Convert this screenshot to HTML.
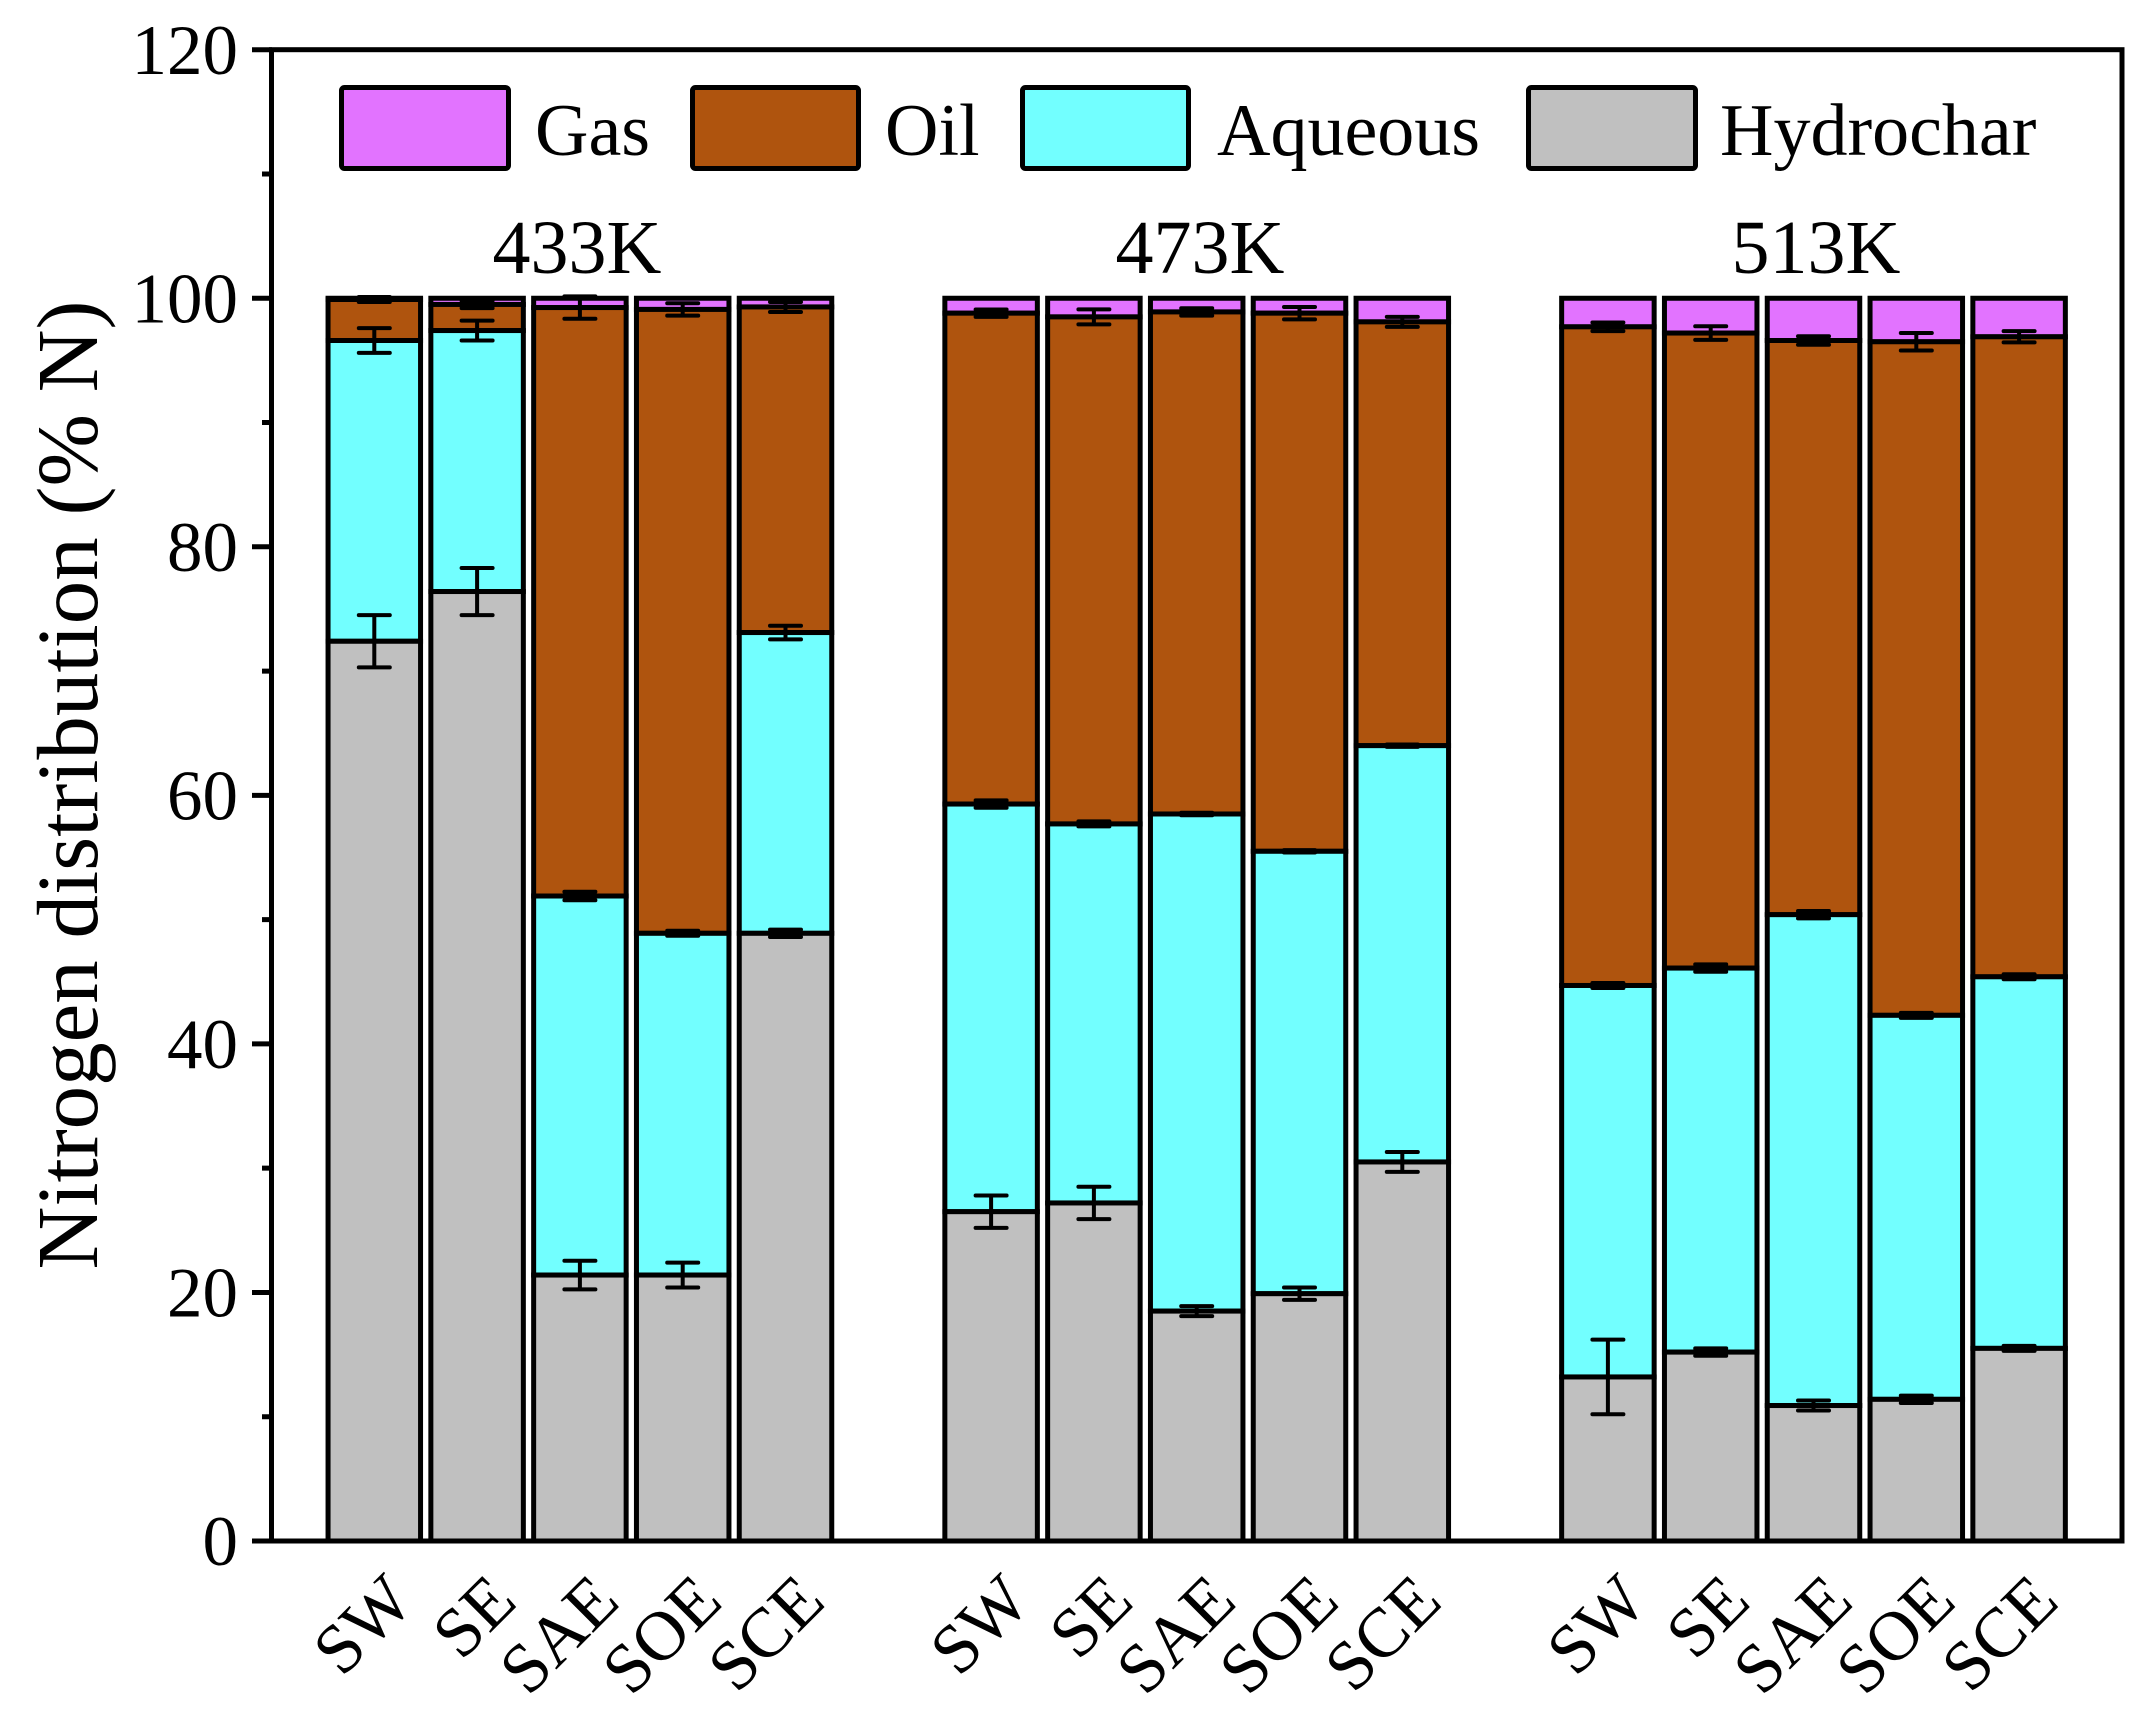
<!DOCTYPE html>
<html>
<head>
<meta charset="utf-8">
<style>
html,body{margin:0;padding:0;background:#fff;}
svg{display:block;}
text{font-family:"Liberation Serif","Times New Roman",serif;fill:#000;}
</style>
</head>
<body>
<svg width="2145" height="1722" viewBox="0 0 2145 1722" xmlns="http://www.w3.org/2000/svg">
<rect x="0" y="0" width="2145" height="1722" fill="#fff"/>

<!-- Bars -->
<g stroke="#000" stroke-width="5" stroke-linejoin="miter">
<!-- 433K -->
<rect x="328.05" y="298.25" width="92.5" height="1.25" fill="#E273FF"/>
<rect x="328.05" y="299.5" width="92.5" height="41" fill="#AF540E"/>
<rect x="328.05" y="340.5" width="92.5" height="300.75" fill="#72FFFF"/>
<rect x="328.05" y="641.25" width="92.5" height="899.75" fill="#C0C0C0"/>

<rect x="430.85" y="298.25" width="92.5" height="6.21" fill="#E273FF"/>
<rect x="430.85" y="304.46" width="92.5" height="26.1" fill="#AF540E"/>
<rect x="430.85" y="330.56" width="92.5" height="260.98" fill="#72FFFF"/>
<rect x="430.85" y="591.54" width="92.5" height="949.46" fill="#C0C0C0"/>

<rect x="533.65" y="298.25" width="92.5" height="9.32" fill="#E273FF"/>
<rect x="533.65" y="307.57" width="92.5" height="588.44" fill="#AF540E"/>
<rect x="533.65" y="896.01" width="92.5" height="379.04" fill="#72FFFF"/>
<rect x="533.65" y="1275.05" width="92.5" height="265.95" fill="#C0C0C0"/>

<rect x="636.45" y="298.25" width="92.5" height="11.18" fill="#E273FF"/>
<rect x="636.45" y="309.43" width="92.5" height="623.87" fill="#AF540E"/>
<rect x="636.45" y="933.3" width="92.5" height="341.75" fill="#72FFFF"/>
<rect x="636.45" y="1275.05" width="92.5" height="265.95" fill="#C0C0C0"/>

<rect x="739.25" y="298.25" width="92.5" height="8.7" fill="#E273FF"/>
<rect x="739.25" y="306.95" width="92.5" height="325.6" fill="#AF540E"/>
<rect x="739.25" y="632.55" width="92.5" height="300.75" fill="#72FFFF"/>
<rect x="739.25" y="933.3" width="92.5" height="607.7" fill="#C0C0C0"/>

<!-- 473K -->
<rect x="944.85" y="298.25" width="92.5" height="14.91" fill="#E273FF"/>
<rect x="944.85" y="313.16" width="92.5" height="490.89" fill="#AF540E"/>
<rect x="944.85" y="804.05" width="92.5" height="407.62" fill="#72FFFF"/>
<rect x="944.85" y="1211.67" width="92.5" height="329.33" fill="#C0C0C0"/>

<rect x="1047.65" y="298.25" width="92.5" height="18.64" fill="#E273FF"/>
<rect x="1047.65" y="316.89" width="92.5" height="507.04" fill="#AF540E"/>
<rect x="1047.65" y="823.93" width="92.5" height="379.04" fill="#72FFFF"/>
<rect x="1047.65" y="1202.97" width="92.5" height="338.03" fill="#C0C0C0"/>

<rect x="1150.45" y="298.25" width="92.5" height="13.67" fill="#E273FF"/>
<rect x="1150.45" y="311.92" width="92.5" height="502.07" fill="#AF540E"/>
<rect x="1150.45" y="813.99" width="92.5" height="497.1" fill="#72FFFF"/>
<rect x="1150.45" y="1311.09" width="92.5" height="229.91" fill="#C0C0C0"/>

<rect x="1253.25" y="298.25" width="92.5" height="14.91" fill="#E273FF"/>
<rect x="1253.25" y="313.16" width="92.5" height="538.11" fill="#AF540E"/>
<rect x="1253.25" y="851.27" width="92.5" height="442.42" fill="#72FFFF"/>
<rect x="1253.25" y="1293.69" width="92.5" height="247.31" fill="#C0C0C0"/>

<rect x="1356.05" y="298.25" width="92.5" height="23.61" fill="#E273FF"/>
<rect x="1356.05" y="321.86" width="92.5" height="423.78" fill="#AF540E"/>
<rect x="1356.05" y="745.64" width="92.5" height="416.32" fill="#72FFFF"/>
<rect x="1356.05" y="1161.96" width="92.5" height="379.04" fill="#C0C0C0"/>

<!-- 513K -->
<rect x="1561.65" y="298.25" width="92.5" height="28.58" fill="#E273FF"/>
<rect x="1561.65" y="326.83" width="92.5" height="658.66" fill="#AF540E"/>
<rect x="1561.65" y="985.49" width="92.5" height="391.47" fill="#72FFFF"/>
<rect x="1561.65" y="1376.96" width="92.5" height="164.04" fill="#C0C0C0"/>

<rect x="1664.45" y="298.25" width="92.5" height="34.8" fill="#E273FF"/>
<rect x="1664.45" y="333.05" width="92.5" height="635.04" fill="#AF540E"/>
<rect x="1664.45" y="968.09" width="92.5" height="384.01" fill="#72FFFF"/>
<rect x="1664.45" y="1352.1" width="92.5" height="188.9" fill="#C0C0C0"/>

<rect x="1767.25" y="298.25" width="92.5" height="42.25" fill="#E273FF"/>
<rect x="1767.25" y="340.5" width="92.5" height="574.15" fill="#AF540E"/>
<rect x="1767.25" y="914.65" width="92.5" height="490.89" fill="#72FFFF"/>
<rect x="1767.25" y="1405.54" width="92.5" height="135.46" fill="#C0C0C0"/>

<rect x="1870.05" y="298.25" width="92.5" height="43.5" fill="#E273FF"/>
<rect x="1870.05" y="341.75" width="92.5" height="673.57" fill="#AF540E"/>
<rect x="1870.05" y="1015.32" width="92.5" height="384.01" fill="#72FFFF"/>
<rect x="1870.05" y="1399.33" width="92.5" height="141.67" fill="#C0C0C0"/>

<rect x="1972.85" y="298.25" width="92.5" height="38.53" fill="#E273FF"/>
<rect x="1972.85" y="336.78" width="92.5" height="640.01" fill="#AF540E"/>
<rect x="1972.85" y="976.79" width="92.5" height="371.58" fill="#72FFFF"/>
<rect x="1972.85" y="1348.37" width="92.5" height="192.63" fill="#C0C0C0"/>
</g>

<!-- Error bars -->
<g stroke="#000" stroke-width="4" fill="none" stroke-linecap="round">
<path d="M374.3 615.15V667.35M358.8 615.15h31M358.8 667.35h31 M374.3 328.1V352.9M358.8 328.1h31M358.8 352.9h31 M374.3 297V302M358.8 297h31M358.8 302h31"/>
<path d="M477.1 567.94V615.14M461.6 567.94h31M461.6 615.14h31 M477.1 320.66V340.46M461.6 320.66h31M461.6 340.46h31 M477.1 300.76V308.16M461.6 300.76h31M461.6 308.16h31"/>
<path d="M579.9 1260.75V1289.35M564.4 1260.75h31M564.4 1289.35h31 M579.9 891.71V900.31M564.4 891.71h31M564.4 900.31h31 M579.9 296.37V318.77M564.4 296.37h31M564.4 318.77h31"/>
<path d="M682.7 1262.65V1287.45M667.2 1262.65h31M667.2 1287.45h31 M682.7 930.8V935.8M667.2 930.8h31M667.2 935.8h31 M682.7 303.23V315.63M667.2 303.23h31M667.2 315.63h31"/>
<path d="M785.5 929.6V937M770 929.6h31M770 937h31 M785.5 625.75V639.35M770 625.75h31M770 639.35h31 M785.5 301.95V311.95M770 301.95h31M770 311.95h31"/>

<path d="M991.1 1195.47V1227.87M975.6 1195.47h31M975.6 1227.87h31 M991.1 800.35V807.75M975.6 800.35h31M975.6 807.75h31 M991.1 309.46V316.86M975.6 309.46h31M975.6 316.86h31"/>
<path d="M1093.9 1186.77V1219.17M1078.4 1186.77h31M1078.4 1219.17h31 M1093.9 821.43V826.43M1078.4 821.43h31M1078.4 826.43h31 M1093.9 309.39V324.39M1078.4 309.39h31M1078.4 324.39h31"/>
<path d="M1196.7 1306.09V1316.09M1181.2 1306.09h31M1181.2 1316.09h31 M1196.7 812.79V815.19M1181.2 812.79h31M1181.2 815.19h31 M1196.7 308.22V315.62M1181.2 308.22h31M1181.2 315.62h31"/>
<path d="M1299.5 1287.49V1299.89M1284 1287.49h31M1284 1299.89h31 M1299.5 850.07V852.47M1284 850.07h31M1284 852.47h31 M1299.5 306.96V319.36M1284 306.96h31M1284 319.36h31"/>
<path d="M1402.3 1152.06V1171.86M1386.8 1152.06h31M1386.8 1171.86h31 M1402.3 744.44V746.84M1386.8 744.44h31M1386.8 746.84h31 M1402.3 316.86V326.86M1386.8 316.86h31M1386.8 326.86h31"/>

<path d="M1607.9 1339.66V1414.26M1592.4 1339.66h31M1592.4 1414.26h31 M1607.9 982.99V987.99M1592.4 982.99h31M1592.4 987.99h31 M1607.9 322.53V331.13M1592.4 322.53h31M1592.4 331.13h31"/>
<path d="M1710.7 1348.4V1355.8M1695.2 1348.4h31M1695.2 1355.8h31 M1710.7 964.39V971.79M1695.2 964.39h31M1695.2 971.79h31 M1710.7 326.25V339.85M1695.2 326.25h31M1695.2 339.85h31"/>
<path d="M1813.5 1400.54V1410.54M1798 1400.54h31M1798 1410.54h31 M1813.5 910.95V918.35M1798 910.95h31M1798 918.35h31 M1813.5 336.2V344.8M1798 336.2h31M1798 344.8h31"/>
<path d="M1916.3 1395.63V1403.03M1900.8 1395.63h31M1900.8 1403.03h31 M1916.3 1012.82V1017.82M1900.8 1012.82h31M1900.8 1017.82h31 M1916.3 333.05V350.45M1900.8 333.05h31M1900.8 350.45h31"/>
<path d="M2019.1 1345.87V1350.87M2003.6 1345.87h31M2003.6 1350.87h31 M2019.1 974.29V979.29M2003.6 974.29h31M2003.6 979.29h31 M2019.1 331.18V342.38M2003.6 331.18h31M2003.6 342.38h31"/>
</g>

<!-- Axes frame -->
<rect x="271.5" y="49.7" width="1850.5" height="1491.3" fill="none" stroke="#000" stroke-width="5"/>

<!-- Y ticks -->
<g stroke="#000" stroke-width="5">
<path d="M252 1541H272M252 1292.45H272M252 1043.9H272M252 795.35H272M252 546.8H272M252 298.25H272M252 49.7H272"/>
<path d="M262 1416.73H272M262 1168.18H272M262 919.63H272M262 671.08H272M262 422.53H272M262 173.98H272"/>
</g>

<!-- Y tick labels -->
<g font-size="71" text-anchor="end">
<text x="238" y="1565">0</text>
<text x="238" y="1316.5">20</text>
<text x="238" y="1068">40</text>
<text x="238" y="819.5">60</text>
<text x="238" y="571">80</text>
<text x="238" y="322.5">100</text>
<text x="238" y="74">120</text>
</g>

<!-- Y axis title -->
<text font-size="87" text-anchor="middle" transform="translate(97,785) rotate(-90)">Nitrogen distribution (% N)</text>

<!-- X tick labels -->
<g font-size="70" text-anchor="end">
<text transform="translate(416.3,1604) rotate(-45)">SW</text>
<text transform="translate(519.1,1604) rotate(-45)">SE</text>
<text transform="translate(621.9,1604) rotate(-45)">SAE</text>
<text transform="translate(724.7,1604) rotate(-45)">SOE</text>
<text transform="translate(827.5,1604) rotate(-45)">SCE</text>
<text transform="translate(1033.1,1604) rotate(-45)">SW</text>
<text transform="translate(1135.9,1604) rotate(-45)">SE</text>
<text transform="translate(1238.7,1604) rotate(-45)">SAE</text>
<text transform="translate(1341.5,1604) rotate(-45)">SOE</text>
<text transform="translate(1444.3,1604) rotate(-45)">SCE</text>
<text transform="translate(1649.9,1604) rotate(-45)">SW</text>
<text transform="translate(1752.7,1604) rotate(-45)">SE</text>
<text transform="translate(1855.5,1604) rotate(-45)">SAE</text>
<text transform="translate(1958.3,1604) rotate(-45)">SOE</text>
<text transform="translate(2061.1,1604) rotate(-45)">SCE</text>
</g>

<!-- Group labels -->
<g font-size="76" text-anchor="middle">
<text x="577" y="273">433K</text>
<text x="1200" y="273">473K</text>
<text x="1816" y="273">513K</text>
</g>

<!-- Legend -->
<g stroke="#000" stroke-width="5">
<rect x="341.5" y="87.5" width="167" height="81" rx="3" fill="#E273FF"/>
<rect x="692.5" y="87.5" width="166" height="81" rx="3" fill="#AF540E"/>
<rect x="1022.5" y="87.5" width="166" height="81" rx="3" fill="#72FFFF"/>
<rect x="1528.5" y="87.5" width="167" height="81" rx="3" fill="#C0C0C0"/>
</g>
<g font-size="74">
<text x="535" y="155">Gas</text>
<text x="885" y="155">Oil</text>
<text x="1217" y="155">Aqueous</text>
<text x="1720" y="155">Hydrochar</text>
</g>
</svg>
</body>
</html>
